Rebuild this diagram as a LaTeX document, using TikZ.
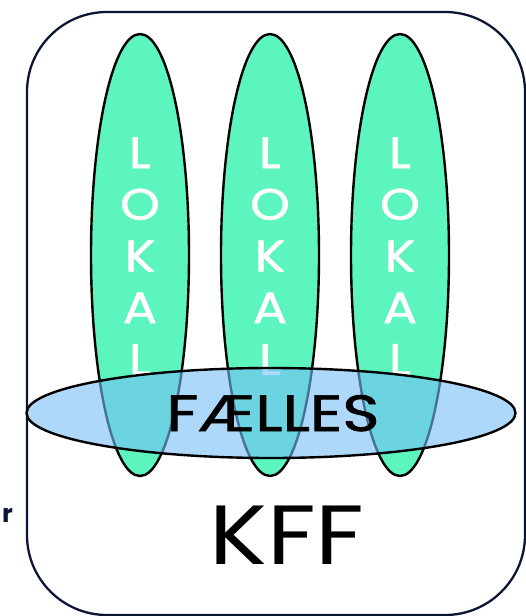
\documentclass[tikz,border=0pt]{standalone}
\usepackage{fontspec}
\setmainfont{Poppins}
\newfontfamily\tykfont{Poppins}[FakeBold=1.2]
\usetikzlibrary{shapes.geometric}

\definecolor{lokalgreen}{RGB}{92,245,190}
\definecolor{faellesblue}{RGB}{118,190,247}
\definecolor{rammenavy}{RGB}{12,22,52}

\begin{document}
\begin{tikzpicture}[x=1pt,y=-1pt,
    lokal/.style={ellipse, draw=black, line width=2.4pt, fill=lokalgreen,
      minimum width=98pt, minimum height=442pt, inner sep=0pt},
    faelles/.style={ellipse, draw=black, line width=2.4pt, fill=faellesblue,
      fill opacity=0.6, draw opacity=1, minimum width=489pt, minimum height=90pt, inner sep=0pt},
    bogstav/.style={anchor=base, text=white, font=\tykfont\fontsize{44}{44}\selectfont, inner sep=0pt}]
  \useasboundingbox (0,0) rectangle (526,616);
  % ramme
  \draw[rammenavy, line width=2.3pt, rounded corners=80pt] (27,12) rectangle (525,615);
  \node[anchor=base east, text=rammenavy, inner sep=0pt,
    font=\fontsize{25}{25}\selectfont\bfseries] (rest) at (13,522) {r};
  % lokale ellipser
  \foreach \cx [count=\j] in {140,270,400} {
    \node[lokal] (lokal\j) at (\cx,255) {};
    \foreach \l [count=\i] in {L,O,K,A,L}
      \node[bogstav] (bogstav\j\i) at (\cx,{168+51.7*(\i-1)}) {\scalebox{1.15}[1]{\l}};
  }
  % faelles
  \node[faelles] (faelles) at (271,413) {};
  \node[anchor=base, inner sep=0pt, font=\tykfont\fontsize{51}{51}\selectfont] (faellestekst)
    at (273,431) {\scalebox{1.24}[1]{FÆLLES}};
  \node[anchor=base, inner sep=0pt, font=\fontsize{84}{84}\selectfont] (kff)
    at (287,564) {\scalebox{1.15}[1]{KFF}};
\end{tikzpicture}
\end{document}
